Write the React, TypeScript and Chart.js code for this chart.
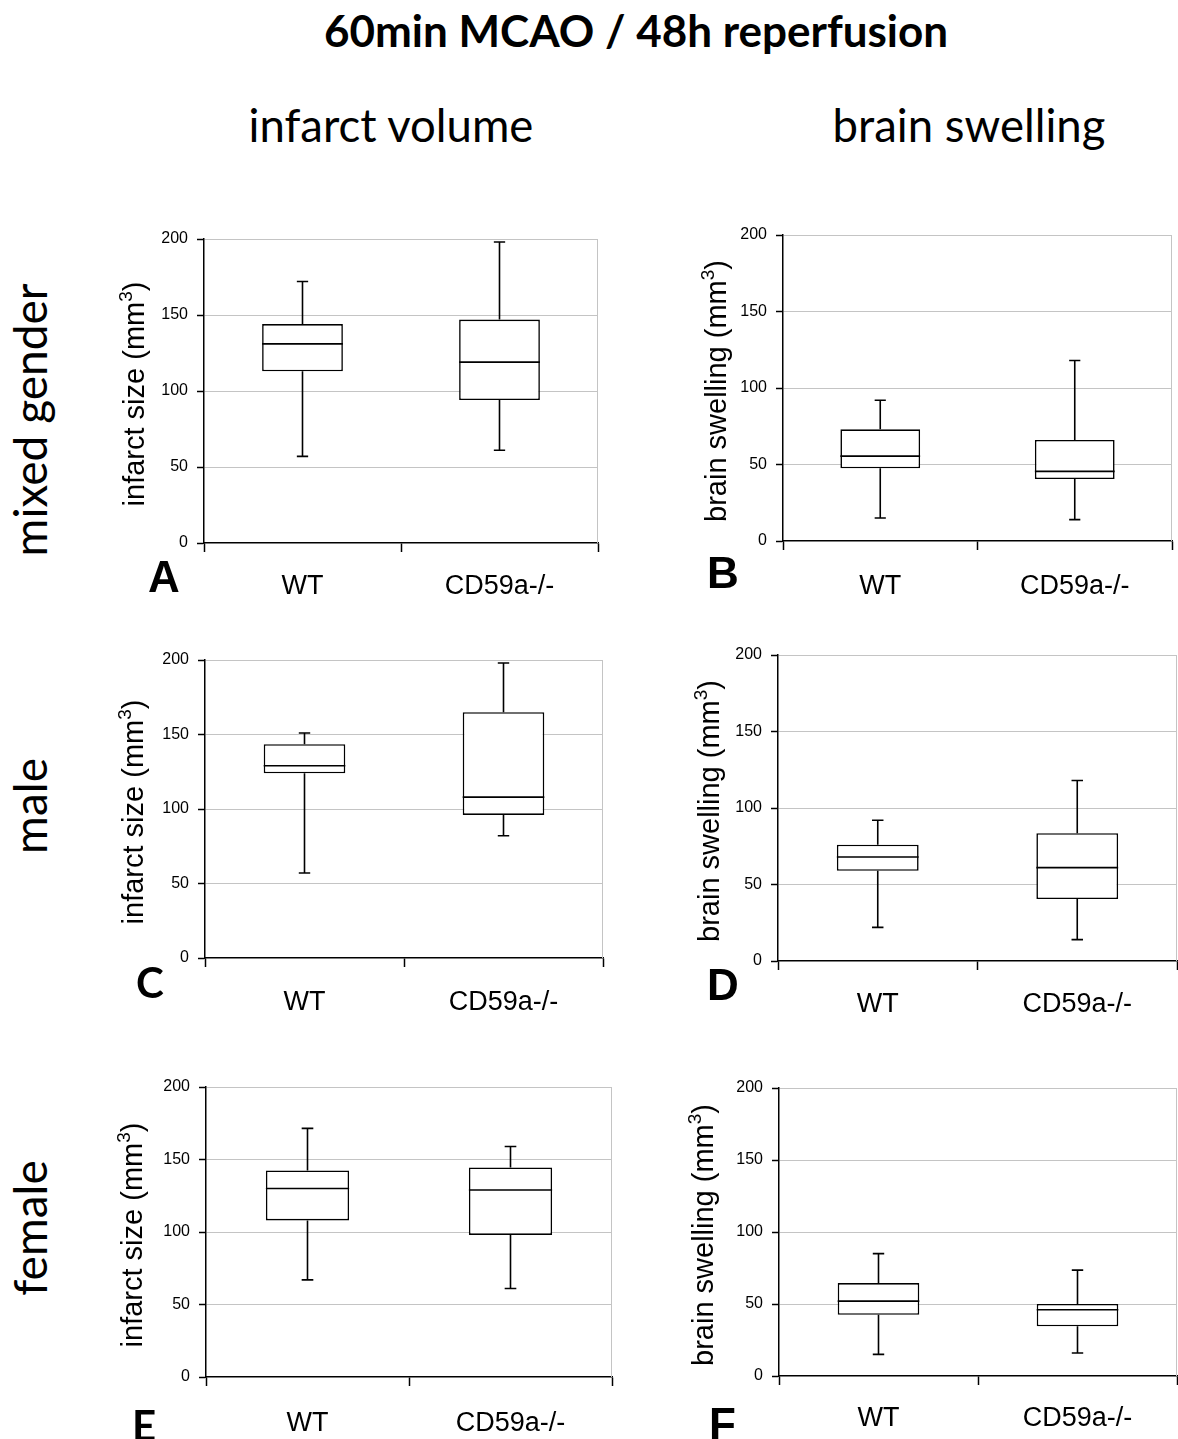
import React, { useEffect, useRef } from "react";
import { Chart, registerables } from "chart.js";

Chart.register(...registerables);

// ---------- data ----------
const categories = ["WT", "CD59a-/-"];
const yTickValues = [0, 50, 100, 150, 200];

// each group: [min, q1, median, q3, max]
const mixedInfarctWT = [57, 113, 131, 144, 172];
const mixedInfarctKO = [61, 94, 119, 147, 198];
const mixedSwellingWT = [15, 47.5, 55.5, 73, 92];
const mixedSwellingKO = [14, 40.5, 45.5, 66, 118];
const maleInfarctWT = [57, 124, 129, 143.5, 151];
const maleInfarctKO = [82, 96, 108, 165, 198];
const maleSwellingWT = [22, 59, 68, 76, 92];
const maleSwellingKO = [14, 40.5, 61, 83.5, 118];
const femaleInfarctWT = [67, 108, 130, 142.5, 171.5];
const femaleInfarctKO = [61, 98, 129, 144.5, 159];
const femaleSwellingWT = [15, 42.5, 52, 64.5, 85];
const femaleSwellingKO = [16, 34.5, 46, 50, 73.5];

const figureTitle = "60min MCAO / 48h reperfusion";
const columnTitles = ["infarct volume", "brain swelling"];
const rowTitles = ["mixed gender", "male", "female"];
const infarctLabel = "infarct size (mm";
const swellingLabel = "brain swelling (mm";

// ---------- layout ----------
const YW = 110;
const XH = 62;
const PADT = 22;
const PADR = 8;
const ARIAL = "'Liberation Sans', Arial, sans-serif";
const CALIBRI = "Lato, 'Open Sans', sans-serif";

type PanelSpec = {
  stats: number[][];
  label: string;
  letter: string;
  letterFont: string;
  letterPos: [number, number];
  area: [number, number, number, number]; // left, right, top, bottom
  titleOff: number;
  xPad: number;
};

const panels: PanelSpec[] = [
  { stats: [mixedInfarctWT, mixedInfarctKO], label: infarctLabel, letter: "A", letterFont: ARIAL, letterPos: [148, 555], area: [204, 598, 239, 543], titleOff: 60, xPad: 18 },
  { stats: [mixedSwellingWT, mixedSwellingKO], label: swellingLabel, letter: "B", letterFont: ARIAL, letterPos: [707, 551], area: [783, 1172, 235, 541], titleOff: 57, xPad: 20 },
  { stats: [maleInfarctWT, maleInfarctKO], label: infarctLabel, letter: "C", letterFont: CALIBRI, letterPos: [136, 961], area: [205, 603, 660, 958], titleOff: 62, xPad: 19 },
  { stats: [maleSwellingWT, maleSwellingKO], label: swellingLabel, letter: "D", letterFont: ARIAL, letterPos: [707, 963], area: [778, 1177, 655, 961], titleOff: 59, xPad: 18 },
  { stats: [femaleInfarctWT, femaleInfarctKO], label: infarctLabel, letter: "E", letterFont: CALIBRI, letterPos: [132, 1404], area: [206, 612, 1087, 1377], titleOff: 64, xPad: 21 },
  { stats: [femaleSwellingWT, femaleSwellingKO], label: swellingLabel, letter: "F", letterFont: ARIAL, letterPos: [709, 1402], area: [779, 1177, 1088, 1376], titleOff: 66, xPad: 17 },
];

function makeBoxPlugin(stats: number[][], label: string, titleOff: number) {
  return {
    id: "boxWhisker",
    afterDatasetsDraw(chart: any) {
      const ctx = chart.ctx;
      const y = chart.scales.y;
      const meta = chart.getDatasetMeta(0);
      ctx.save();
      ctx.strokeStyle = "#000";
      ctx.lineWidth = 1.6;
      meta.data.forEach((bar: any, i: number) => {
        const s = stats[i];
        const x = bar.x;
        const half = bar.width / 2;
        const cap = bar.width * 0.07;
        const yMin = y.getPixelForValue(s[0]);
        const yQ1 = y.getPixelForValue(s[1]);
        const yMed = y.getPixelForValue(s[2]);
        const yQ3 = y.getPixelForValue(s[3]);
        const yMax = y.getPixelForValue(s[4]);
        ctx.beginPath();
        ctx.moveTo(x, yQ3);
        ctx.lineTo(x, yMax);
        ctx.moveTo(x - cap, yMax);
        ctx.lineTo(x + cap, yMax);
        ctx.moveTo(x, yQ1);
        ctx.lineTo(x, yMin);
        ctx.moveTo(x - cap, yMin);
        ctx.lineTo(x + cap, yMin);
        ctx.moveTo(x - half, yMed);
        ctx.lineTo(x + half, yMed);
        ctx.stroke();
      });
      const ca = chart.chartArea;
      ctx.strokeStyle = "#c4c4c4";
      ctx.lineWidth = 1;
      ctx.beginPath();
      ctx.moveTo(ca.right - 0.5, ca.top);
      ctx.lineTo(ca.right - 0.5, ca.bottom);
      ctx.stroke();
      ctx.restore();
    },
    afterDraw(chart: any) {
      const ctx = chart.ctx;
      const ca = chart.chartArea;
      ctx.save();
      ctx.translate(ca.left - titleOff, (ca.top + ca.bottom) / 2 + 3);
      ctx.rotate(-Math.PI / 2);
      ctx.fillStyle = "#000";
      ctx.textBaseline = "alphabetic";
      ctx.textAlign = "left";
      const mainFont = `29px ${ARIAL}`;
      const supFont = `19px ${ARIAL}`;
      ctx.font = mainFont;
      const w1 = ctx.measureText(label).width;
      const w3 = ctx.measureText(")").width;
      ctx.font = supFont;
      const w2 = ctx.measureText("3").width;
      const total = w1 + w2 + w3;
      const x0 = -total / 2;
      ctx.font = mainFont;
      ctx.fillText(label, x0, 0);
      ctx.fillText(")", x0 + w1 + w2, 0);
      ctx.font = supFont;
      ctx.fillText("3", x0 + w1, -12);
      ctx.restore();
    },
  };
}

function Panel({ p }: { p: PanelSpec }) {
  const ref = useRef<HTMLCanvasElement | null>(null);
  const [l, r, t, b] = p.area;
  const w = r - l + YW + PADR;
  const h = b - t + PADT + XH;
  useEffect(() => {
    if (!ref.current) return;
    const chart = new Chart(ref.current, {
      type: "bar",
      data: {
        labels: categories,
        datasets: [
          {
            data: p.stats.map((s) => [s[1], s[3]]) as any,
            backgroundColor: "#ffffff",
            borderColor: "#000000",
            borderWidth: 1.6,
            borderSkipped: false,
            barPercentage: 0.41,
            categoryPercentage: 1,
          },
        ],
      },
      options: {
        responsive: false,
        animation: false,
        events: [],
        layout: { padding: { left: 0, top: PADT, right: PADR, bottom: 0 } },
        plugins: {
          legend: { display: false },
          tooltip: { enabled: false },
          title: { display: false },
        },
        scales: {
          x: {
            type: "category",
            offset: true,
            grid: {
              display: true,
              drawOnChartArea: false,
              drawTicks: true,
              tickLength: 9,
              tickColor: "#000",
              tickWidth: 1.5,
              offset: true,
            },
            border: { display: true, color: "#000", width: 1.5 },
            ticks: {
              color: "#000",
              font: { family: ARIAL, size: 27 },
              padding: p.xPad,
              maxRotation: 0,
              autoSkip: false,
            },
            afterFit: (s: any) => {
              s.height = XH;
            },
          },
          y: {
            min: 0,
            max: 200,
            grid: {
              color: (c: any) => (c.tick && c.tick.value === 0 ? "rgba(0,0,0,0)" : "#c4c4c4"),
              lineWidth: 1,
              tickLength: 7,
              tickColor: "#000",
              tickWidth: 1.5,
            },
            border: { color: "#000", width: 1.5 },
            ticks: {
              color: "#000",
              font: { family: ARIAL, size: 16 },
              padding: 9,
            },
            afterBuildTicks: (s: any) => {
              s.ticks = yTickValues.map((v) => ({ value: v }));
            },
            afterFit: (s: any) => {
              s.width = YW;
            },
          },
        },
      } as any,
      plugins: [makeBoxPlugin(p.stats, p.label, p.titleOff)],
    });
    return () => chart.destroy();
  }, []);
  return (
    <canvas
      ref={ref}
      width={w}
      height={h}
      style={{ position: "absolute", left: l - YW, top: t - PADT, width: w, height: h }}
    />
  );
}

const textBase: React.CSSProperties = {
  position: "absolute",
  whiteSpace: "nowrap",
  lineHeight: 1,
  color: "#000",
  margin: 0,
};

export default function App() {
  return (
    <div
      style={{
        position: "absolute",
        left: 0,
        top: 0,
        width: 1178,
        height: 1439,
        overflow: "hidden",
        background: "#fff",
      }}
    >
      <div
        style={{
          ...textBase,
          left: 636,
          top: 8,
          transform: "translateX(-50%)",
          fontFamily: CALIBRI,
          fontWeight: 700,
          fontSize: 44,
        }}
      >
        {figureTitle}
      </div>
      <div style={{ ...textBase, left: 391, top: 102, transform: "translateX(-50%)", fontFamily: CALIBRI, fontSize: 45.5 }}>
        {columnTitles[0]}
      </div>
      <div style={{ ...textBase, left: 969, top: 102, transform: "translateX(-50%)", fontFamily: CALIBRI, fontSize: 45.5 }}>
        {columnTitles[1]}
      </div>
      {[420, 806, 1228].map((cy, i) => (
        <div
          key={i}
          style={{
            ...textBase,
            left: 30,
            top: cy,
            transform: "translate(-50%, -50%) rotate(-90deg)",
            fontFamily: CALIBRI,
            fontSize: 46,
          }}
        >
          {rowTitles[i]}
        </div>
      ))}
      {panels.map((p, i) => (
        <Panel key={i} p={p} />
      ))}
      {panels.map((p, i) => (
        <div
          key={"l" + i}
          style={{
            ...textBase,
            left: p.letterPos[0],
            top: p.letterPos[1],
            fontFamily: p.letterFont,
            fontWeight: 700,
            fontSize: p.letterFont === ARIAL ? 44 : 42,
          }}
        >
          {p.letter}
        </div>
      ))}
    </div>
  );
}
